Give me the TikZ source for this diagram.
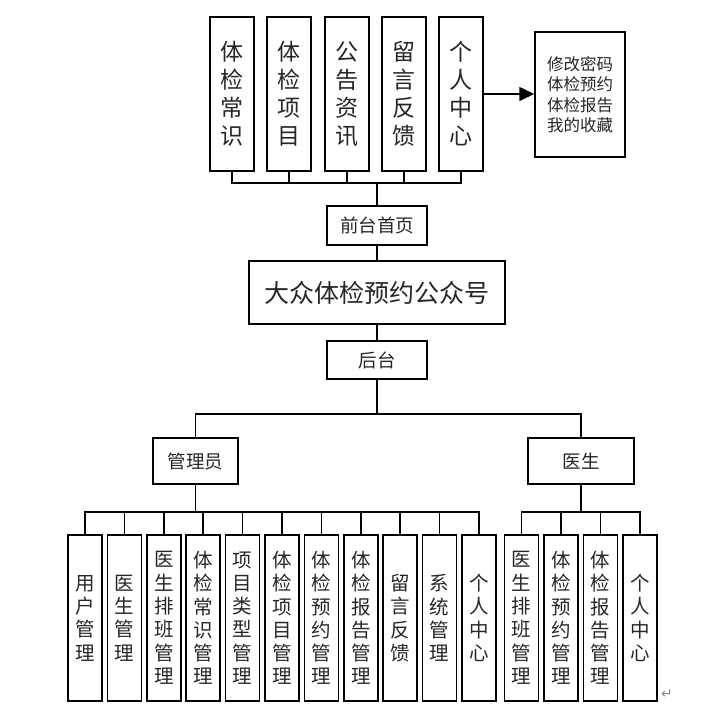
\documentclass[tikz,border=0pt]{standalone}
\usepackage{fontspec}
\newfontfamily\cjk{Noto Sans CJK SC}
\newfontfamily\dejavu{DejaVu Sans}
\usetikzlibrary{arrows.meta}
\begin{document}
\begin{tikzpicture}[x=1pt,y=-1pt,
  box/.style={draw,line width=1.5pt,inner sep=0pt,align=center,text=black!85},
  topbox/.style={box,minimum width=44pt,minimum height=154pt,font=\cjk\fontsize{23}{28}\selectfont},
  kidbox/.style={box,minimum width=34pt,minimum height=166pt,font=\cjk\fontsize{19.5}{23.3}\selectfont},
  midbox/.style={box,font=\cjk\fontsize{18.5}{22}\selectfont},
  link/.style={line width=1.6pt}]
\useasboundingbox (0,0) rectangle (713,710);

% top row
\node[topbox] (t1) at (232,94) {体\\检\\常\\识};
\node[topbox] (t2) at (289,94) {体\\检\\项\\目};
\node[topbox] (t3) at (347,94) {公\\告\\资\\讯};
\node[topbox] (t4) at (404,94) {留\\言\\反\\馈};
\node[topbox] (t5) at (461,94) {个\\人\\中\\心};
\node[box,minimum width=90pt,minimum height=125pt,font=\cjk\fontsize{16.5}{20.5}\selectfont] (right) at (580,94.5) {修改密码\\体检预约\\体检报告\\我的收藏};
\draw[link,-{Triangle[length=15pt,width=14pt]}] (t5.east) -- (t5.east -| right.west);

% center column
\node[midbox,minimum width=100pt,minimum height=39pt] (front) at (377,225.5) {前台首页};
\node[box,minimum width=256pt,minimum height=63pt,font=\cjk\fontsize{25}{30}\selectfont] (main) at (377,292.5) {大众体检预约公众号};
\node[midbox,minimum width=100pt,minimum height=38pt] (back) at (377,360) {后台};

\coordinate (tb) at (377,183);
\foreach \i in {1,...,5} {\draw[link] (t\i.south) |- (tb);}
\draw[link] (tb) -- (front.north);
\draw[link] (front.south) -- (main.north);
\draw[link] (main.south) -- (back.north);

% second level
\node[midbox,minimum width=85pt,minimum height=46pt] (admin) at (195.5,461) {管理员};
\node[midbox,minimum width=106pt,minimum height=46pt] (doctor) at (581,461) {医生};
\coordinate (bb) at (377,414);
\draw[link] (back.south) -- (bb);
\draw[link] (admin.north) |- (bb) -| (doctor.north);

% admin children
\node[kidbox] (a1) at (85,618) {用\\户\\管\\理};
\node[kidbox] (a2) at (124.4,618) {医\\生\\管\\理};
\node[kidbox] (a3) at (163.8,618) {医\\生\\排\\班\\管\\理};
\node[kidbox] (a4) at (203.2,618) {体\\检\\常\\识\\管\\理};
\node[kidbox] (a5) at (242.6,618) {项\\目\\类\\型\\管\\理};
\node[kidbox] (a6) at (282,618) {体\\检\\项\\目\\管\\理};
\node[kidbox] (a7) at (321.4,618) {体\\检\\预\\约\\管\\理};
\node[kidbox] (a8) at (360.8,618) {体\\检\\报\\告\\管\\理};
\node[kidbox] (a9) at (400.2,618) {留\\言\\反\\馈};
\node[kidbox] (a10) at (439.6,618) {系\\统\\管\\理};
\node[kidbox] (a11) at (479,618) {个\\人\\中\\心};
\coordinate (ab) at (195.5,512);
\draw[link] (admin.south) -- (ab);
\foreach \i in {1,...,11} {\draw[link] (a\i.north) |- (ab);}

% doctor children
\node[kidbox] (d1) at (521.5,618) {医\\生\\排\\班\\管\\理};
\node[kidbox] (d2) at (561,618) {体\\检\\预\\约\\管\\理};
\node[kidbox] (d3) at (600.5,618) {体\\检\\报\\告\\管\\理};
\node[kidbox] (d4) at (640,618) {个\\人\\中\\心};
\coordinate (db) at (581,512);
\draw[link] (doctor.south) -- (db);
\foreach \i in {1,...,4} {\draw[link] (d\i.north) |- (db);}

% paragraph mark
\node[text=black!45,font=\dejavu\fontsize{14}{14}\selectfont,inner sep=0pt] (pm) at (667,694) {↵};
\end{tikzpicture}
\end{document}
